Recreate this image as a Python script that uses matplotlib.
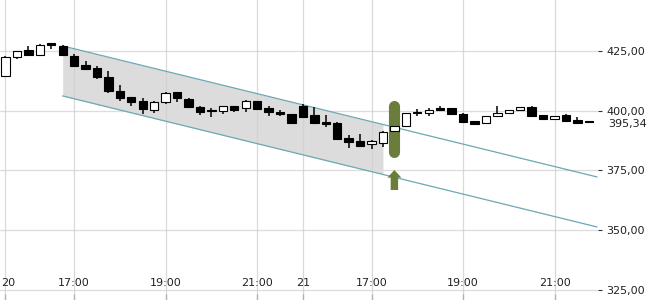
import numpy as np
import matplotlib
matplotlib.use("Agg")
import matplotlib.pyplot as plt
import matplotlib.transforms as mtransforms

# 15 minute candles, two trading days (20th and 21st)
opens = [414.6, 422.6, 425.6, 423.4, 428.0, 427.2, 423.2, 419.5, 418.1, 414.2,
         408.4, 405.9, 404.2, 400.4, 403.9, 407.9, 405.0, 401.6, 400.2, 399.9,
         402.0, 401.1, 404.3, 401.1, 399.7, 398.7, 402.2, 398.3, 395.5, 394.8,
         388.5, 387.4, 386.0, 386.7, 391.6, 393.7, 399.2, 399.0, 401.1, 401.1,
         398.6, 395.8, 394.8, 398.0, 399.0, 400.3, 401.6, 398.3, 396.8, 398.3,
         396.2, 395.5]
highs = [423.0, 425.3, 427.2, 428.3, 428.7, 427.7, 424.1, 420.9, 418.8, 416.8,
         410.9, 405.9, 405.3, 404.2, 408.1, 407.9, 405.6, 402.1, 401.2, 402.2,
         402.0, 404.6, 404.3, 402.1, 400.6, 398.7, 402.8, 401.6, 398.3, 395.2,
         389.9, 390.3, 387.8, 391.7, 394.8, 399.0, 400.7, 401.4, 402.2, 401.1,
         399.0, 395.8, 397.9, 402.1, 400.4, 401.6, 402.2, 398.3, 397.9, 398.8,
         397.5, 395.5]
lows = [414.5, 422.0, 423.4, 423.0, 426.2, 423.4, 419.0, 417.4, 413.6, 407.6,
        404.3, 402.0, 398.6, 399.2, 402.9, 403.9, 401.6, 398.3, 397.6, 398.7,
        399.7, 399.7, 400.8, 398.0, 397.8, 394.8, 397.6, 395.1, 393.1, 388.1,
        384.6, 385.4, 383.9, 385.0, 390.2, 393.7, 398.0, 398.0, 400.4, 398.3,
        395.3, 393.9, 394.8, 398.0, 399.0, 400.3, 398.0, 396.2, 396.8, 395.8,
        394.8, 394.8]
closes = [422.6, 425.3, 423.7, 427.9, 427.9, 423.4, 419.0, 417.8, 414.2, 408.5,
          405.6, 403.9, 400.7, 403.9, 407.4, 405.3, 401.6, 399.7, 399.8, 402.2,
          400.4, 404.2, 400.8, 399.5, 398.6, 394.8, 397.6, 395.1, 394.4, 388.1,
          387.1, 385.4, 387.4, 391.2, 393.6, 399.0, 399.4, 400.4, 400.4, 398.6,
          395.3, 394.7, 397.9, 399.0, 400.4, 401.6, 398.0, 396.6, 397.9, 395.8,
          394.8, 395.34]

tick_pos = [0, 6, 14, 22, 26, 32, 40, 48]
tick_labels = ["20", "17:00", "19:00", "21:00", "21", "17:00", "19:00", "21:00"]
price_ticks = [325, 350, 375, 400, 425]
last_price = 395.34

# trend channel (start/end index and levels)
channel_x = [5, 51.7]
channel_upper = [427.3, 372.3]
channel_lower = [406.3, 351.3]
channel_fill_end = 33

# signal marker
signal_idx = 34
signal_range = [380.3, 404.2]
arrow_range = [366.8, 375.2]

green = "#6b7d3a"
teal = "#6aa9b3"

fig = plt.figure(figsize=(6.5, 3), dpi=100)
ax = fig.add_axes([0, 0, 598 / 650, 1])
ax.set_xlim(-0.48, 51.8)
ax.set_ylim(320.6, 446.6)

# grid
for p in price_ticks:
    ax.axhline(p, color="#dcdcdc", lw=0.9, zorder=0)
for t in tick_pos:
    ax.axvline(t, color="#d0d0d0", lw=0.9, zorder=2, alpha=0.8)

# channel fill and lines
fx = np.linspace(channel_x[0], channel_fill_end, 50)
fu = np.interp(fx, channel_x, channel_upper)
fl = np.interp(fx, channel_x, channel_lower)
ax.fill_between(fx, fl, fu, color="#dcdcdc", lw=0, zorder=1)
ax.plot(channel_x, channel_upper, color=teal, lw=0.9, zorder=3)
ax.plot(channel_x, channel_lower, color=teal, lw=0.9, zorder=3)

# candles
idx = np.arange(len(opens))
o = np.array(opens)
c = np.array(closes)
ax.vlines(idx, lows, highs, color="black", lw=1.1, zorder=4)
bottoms = np.minimum(o, c)
heights = np.maximum(np.abs(c - o), 0.45)
face = ["white" if cc > oo else "black" for oo, cc in zip(o, c)]
ax.bar(idx, heights, bottom=bottoms, width=0.73, color=face,
       edgecolor="black", linewidth=0.8, zorder=5)

# signal marker (rounded bar) and arrow
cap = 5.5 / 2.38
ax.plot([signal_idx, signal_idx], [signal_range[0] + cap, signal_range[1] - cap],
        color=green, lw=8.0, solid_capstyle="round", zorder=4.5)
ax.arrow(signal_idx, arrow_range[0], 0, arrow_range[1] - arrow_range[0],
         width=0.65, head_width=1.22, head_length=3.2,
         length_includes_head=True, color=green, lw=0, zorder=4.5)

# axes styling
for s in ax.spines.values():
    s.set_visible(False)
ax.yaxis.tick_right()
ax.set_yticks(price_ticks)
ax.set_yticklabels([f"{p:.2f}".replace(".", ",") for p in price_ticks])
ax.tick_params(axis="y", length=3, width=0.8, color="#333333", pad=3,
               labelsize=8, labelcolor="#222222")
ax.set_xticks(tick_pos)
ax.tick_params(axis="x", direction="in", length=4, width=0.8, color="#333333",
               labelbottom=False)

for t, lab in zip(tick_pos, tick_labels):
    if t == 0:
        # first label sits at the very left edge, keep it inside the figure
        ax.annotate(lab, xy=(0, 327.7), xycoords=("axes fraction", "data"),
                    xytext=(0.5, 0), textcoords="offset points",
                    ha="left", va="center", fontsize=8, color="#222222",
                    zorder=6)
    else:
        ax.text(t, 327.7, lab, ha="center", va="center", fontsize=8,
                color="#222222", zorder=6)

trans = mtransforms.blended_transform_factory(ax.transAxes, ax.transData)
ax.annotate(f"{last_price:.2f}".replace(".", ","), xy=(1, last_price),
            xycoords=trans, xytext=(7.5, -1.5), textcoords="offset points",
            ha="left", va="center", fontsize=8, color="#222222",
            bbox=dict(boxstyle="square,pad=0.05", fc="white", ec="none"),
            annotation_clip=False)

fig.savefig("out.png", dpi=100)
